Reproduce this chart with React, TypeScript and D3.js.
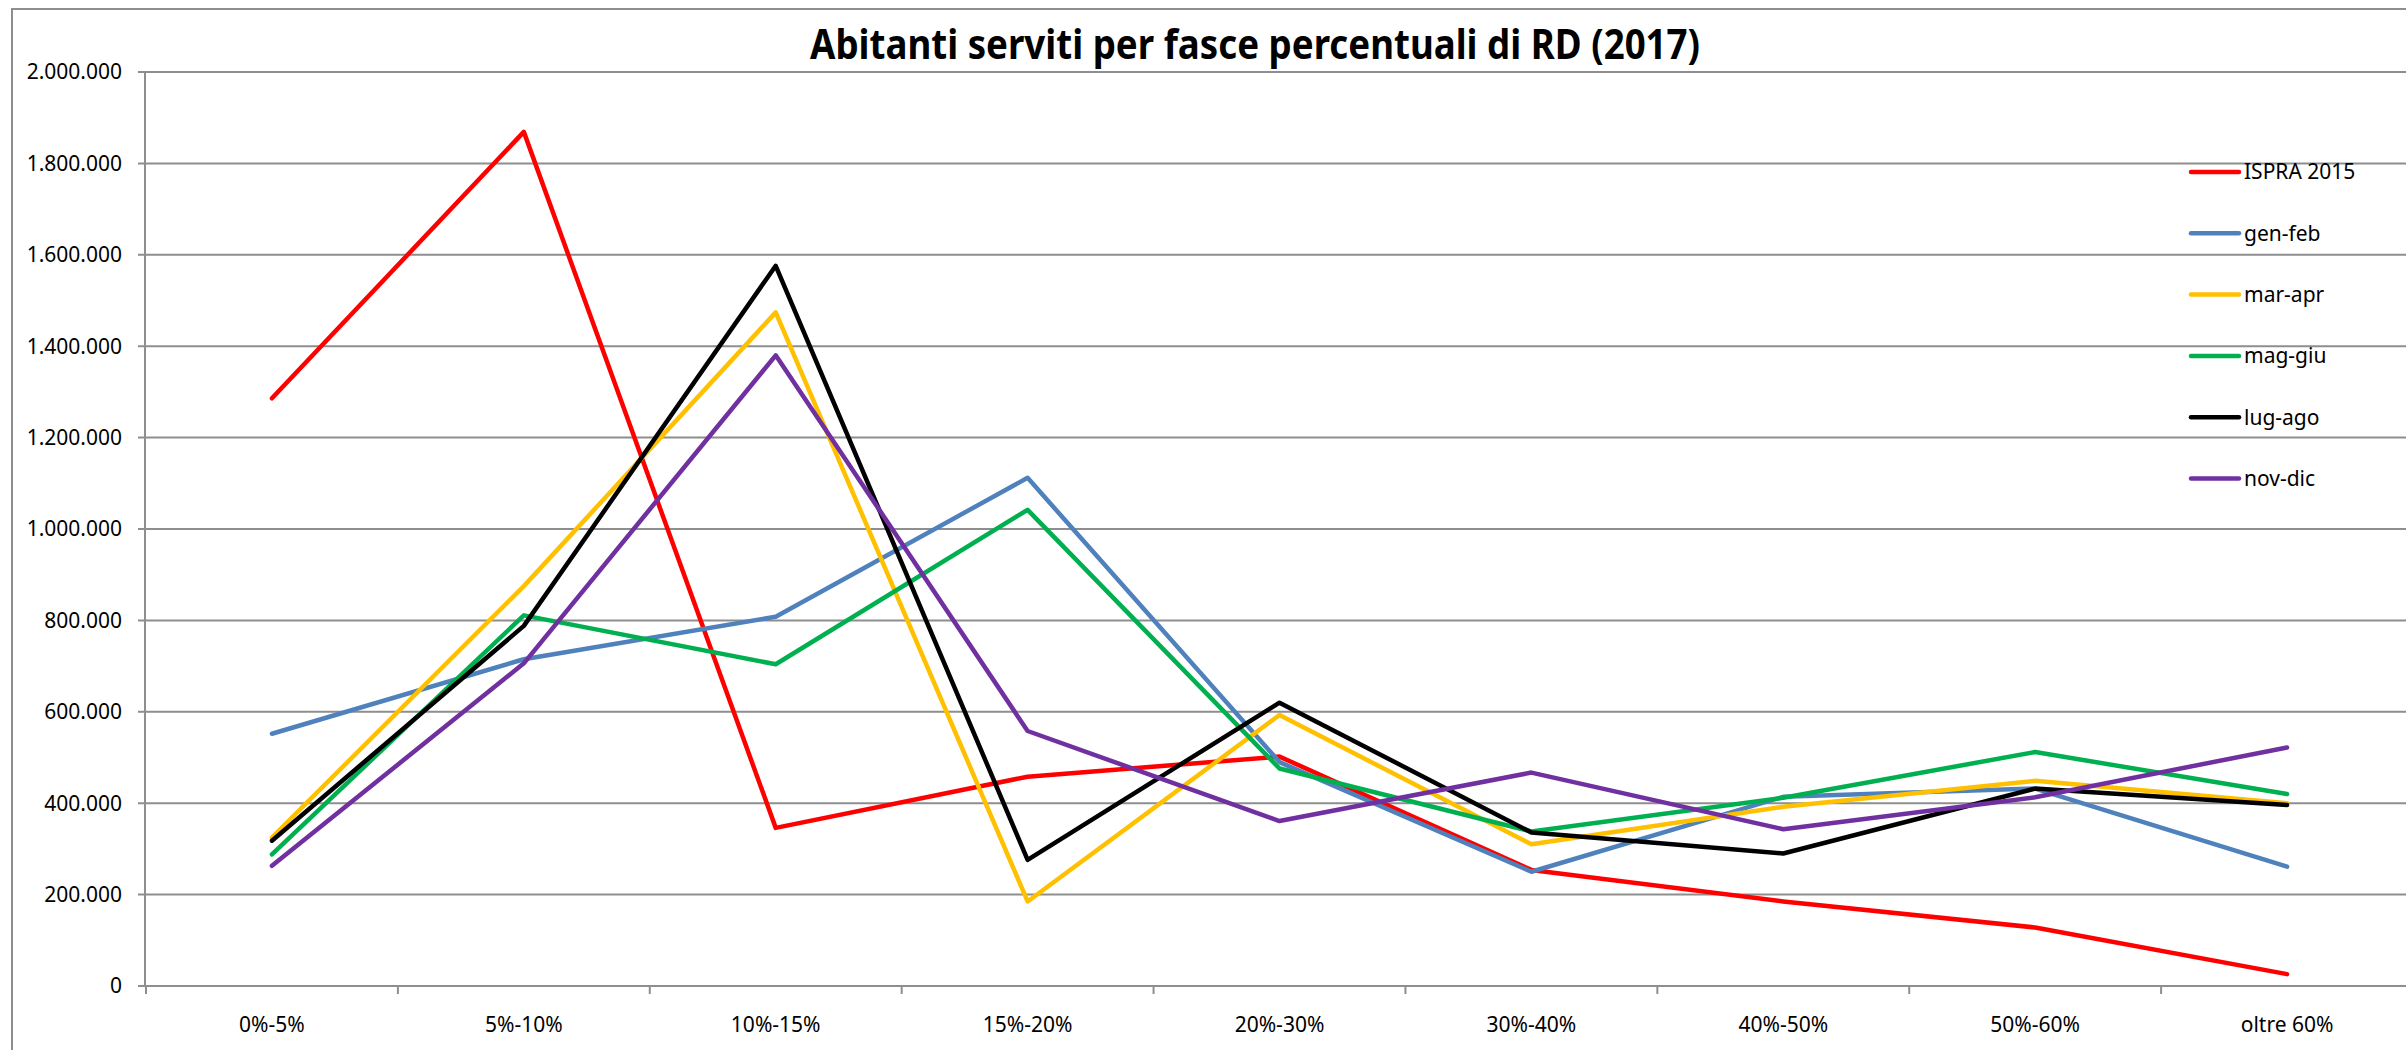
import React from "react";
import * as d3 from "d3";

const categories = ["0%-5%", "5%-10%", "10%-15%", "15%-20%", "20%-30%", "30%-40%", "40%-50%", "50%-60%", "oltre 60%"];
const seriesNames = ["ISPRA 2015", "gen-feb", "mar-apr", "mag-giu", "lug-ago", "nov-dic"];
const seriesColors = ["#FF0000", "#4F81BD", "#FFC000", "#00B050", "#000000", "#7030A0"];
const ispra2015 = [1286000, 1869000, 346000, 458000, 502000, 254000, 185000, 128000, 26000];
const genFeb = [552000, 715000, 808000, 1112000, 490000, 250000, 414000, 432000, 261000];
const marApr = [325000, 875000, 1474000, 185000, 593000, 310000, 392000, 449000, 400000];
const magGiu = [288000, 811000, 704000, 1042000, 476000, 338000, 412000, 512000, 420000];
const lugAgo = [318000, 788000, 1576000, 276000, 620000, 336000, 290000, 432000, 396000];
const novDic = [263000, 706000, 1380000, 558000, 361000, 467000, 343000, 413000, 522000];
const yTicks = [0, 200000, 400000, 600000, 800000, 1000000, 1200000, 1400000, 1600000, 1800000, 2000000];
const title = "Abitanti serviti per fasce percentuali di RD (2017)";

const seriesValues = [ispra2015, genFeb, marApr, magGiu, lugAgo, novDic];

const W = 2406;
const H = 1050;
const plotLeft = 146;
const plotRight = 2413;
const plotTop = 72;
const plotBottom = 986;

const itLocale = d3.formatLocale({ decimal: ",", thousands: ".", grouping: [3], currency: ["", "€"] });
const fmt = itLocale.format(",d");

const FONT = "'Noto Sans', 'DejaVu Sans', sans-serif";
const GRID = "#8e8e8e";

export default function App() {
  const x = d3.scaleBand<string>().domain(categories).range([plotLeft, plotRight]).padding(0);
  const y = d3.scaleLinear().domain([0, 2000000]).range([plotBottom, plotTop]);
  const bw = x.bandwidth();
  const cx = (c: string) => (x(c) as number) + bw / 2;

  const line = d3
    .line<number>()
    .x((_, i) => cx(categories[i]))
    .y((v) => y(v));

  const boundaries = categories.map((c) => x(c) as number).concat([(x(categories[categories.length - 1]) as number) + bw]);

  const legendX = 2191;
  const legendY0 = 172;
  const legendStep = 61.3;

  return (
    <svg
      width={W}
      height={H}
      style={{ position: "absolute", left: 0, top: 0, background: "#fff" }}
      xmlns="http://www.w3.org/2000/svg"
    >
      <rect x={0} y={0} width={W} height={H} fill="#fff" />
      {/* outer chart border */}
      <rect x={12} y={9} width={W + 100} height={H + 100} fill="none" stroke={GRID} strokeWidth={2} />

      {/* title */}
      <text
        x={1255}
        y={59}
        textAnchor="middle"
        fontFamily={FONT}
        fontWeight="bold"
        fontSize={41}
        textLength={890}
        lengthAdjust="spacingAndGlyphs"
        fill="#000"
      >
        {title}
      </text>

      {/* gridlines */}
      {yTicks.map((t) => (
        <line key={"g" + t} x1={plotLeft - 8} x2={W + 20} y1={y(t)} y2={y(t)} stroke={GRID} strokeWidth={2} />
      ))}
      {/* y axis */}
      <line x1={plotLeft - 1} x2={plotLeft - 1} y1={plotTop} y2={plotBottom} stroke={GRID} strokeWidth={2} />
      {yTicks.map((t) => (
        <text
          key={"yl" + t}
          x={122}
          y={y(t)}
          dy="0.35em"
          textAnchor="end"
          fontFamily={FONT}
          fontSize={21}
          fill="#000"
        >
          {fmt(t)}
        </text>
      ))}
      {/* x axis ticks */}
      {boundaries.map((b, i) => (
        <line key={"xt" + i} x1={b} x2={b} y1={plotBottom} y2={plotBottom + 8} stroke={GRID} strokeWidth={2} />
      ))}
      {categories.map((c) => (
        <text key={"xl" + c} x={cx(c)} y={1032} textAnchor="middle" fontFamily={FONT} fontSize={21} fill="#000">
          {c}
        </text>
      ))}

      {/* series */}
      {seriesValues.map((vals, si) => (
        <path
          key={"s" + si}
          d={line(vals) as string}
          fill="none"
          stroke={seriesColors[si]}
          strokeWidth={4.5}
          strokeLinejoin="round"
          strokeLinecap="round"
        />
      ))}

      {/* legend */}
      {seriesNames.map((n, i) => {
        const ly = legendY0 + i * legendStep;
        return (
          <g key={"lg" + n}>
            <line x1={legendX} x2={legendX + 48} y1={ly} y2={ly} stroke={seriesColors[i]} strokeWidth={4.5} strokeLinecap="round" />
            <text x={legendX + 53} y={ly} dy="0.35em" fontFamily={FONT} fontSize={21} fill="#000">
              {n}
            </text>
          </g>
        );
      })}
    </svg>
  );
}
